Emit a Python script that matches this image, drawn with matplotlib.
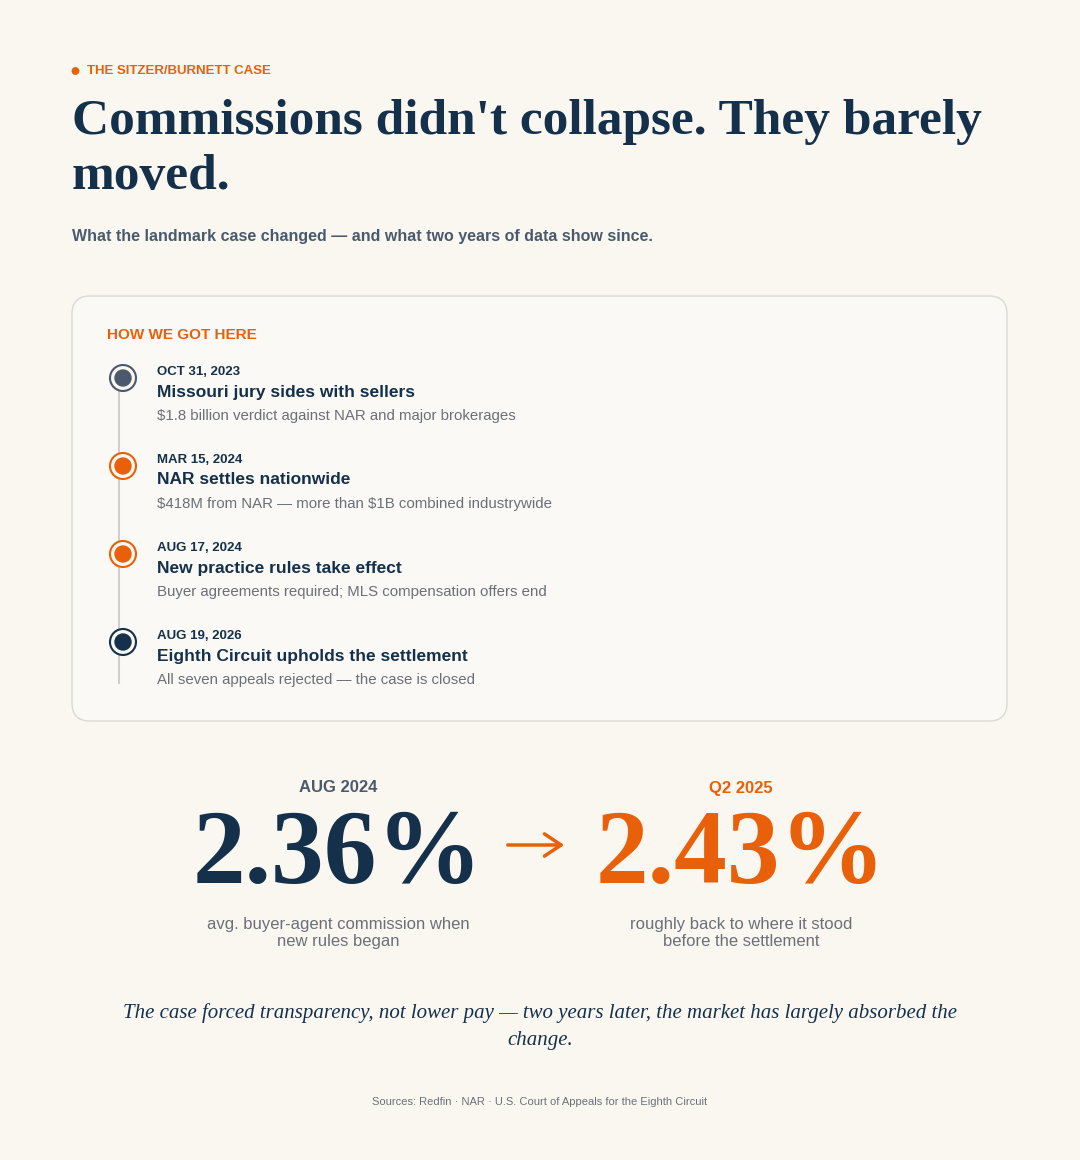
import matplotlib
matplotlib.use("Agg")
import matplotlib.pyplot as plt
from matplotlib.patches import FancyBboxPatch, Circle, FancyArrowPatch

NAVY = "#14304a"; ORANGE = "#e8600a"; SLATE = "#4a5a6c"; GRAY = "#6b7078"; BG = "#faf7f1"

event_dates = ["OCT 31, 2023", "MAR 15, 2024", "AUG 17, 2024", "AUG 19, 2026"]
event_titles = ["Missouri jury sides with sellers", "NAR settles nationwide",
                "New practice rules take effect", "Eighth Circuit upholds the settlement"]
event_descs = ["\\$1.8 billion verdict against NAR and major brokerages",
               "\\$418M from NAR — more than \\$1B combined industrywide",
               "Buyer agreements required; MLS compensation offers end",
               "All seven appeals rejected — the case is closed"]
event_colors = ["#4a5a6c", ORANGE, ORANGE, NAVY]

stat_labels = ["AUG 2024", "Q2 2025"]
stat_values = [2.36, 2.43]
stat_notes = ["avg. buyer-agent commission when\nnew rules began",
              "roughly back to where it stood\nbefore the settlement"]
stat_colors = [NAVY, ORANGE]

fig = plt.figure(figsize=(10.8, 11.6), dpi=100, facecolor=BG)
ax = fig.add_axes([0, 0, 1, 1]); ax.set_xlim(0, 1080); ax.set_ylim(1160, 0); ax.axis("off")
ax.set_facecolor(BG)
SANS = ["Liberation Sans", "DejaVu Sans"]; SERIF = ["Liberation Serif", "DejaVu Serif"]

ax.add_patch(Circle((75.5, 71), 3.2, color=ORANGE))
ax.text(87, 71, "THE SITZER/BURNETT CASE", family=SANS, fontsize=9.5,
        weight="bold", color=ORANGE, va="center")
ax.text(72, 122, "Commissions didn't collapse. They barely", family=SERIF, fontsize=37, weight="bold",
        color=NAVY, va="center")
ax.text(72, 177, "moved.", family=SERIF, fontsize=37, weight="bold", color=NAVY, va="center")
ax.text(72, 237, "What the landmark case changed — and what two years of data show since.", family=SANS,
        fontsize=11.5, weight="bold", color=SLATE, va="center")

ax.add_patch(FancyBboxPatch((72, 296), 935, 425, boxstyle="round,pad=0,rounding_size=18",
                            facecolor="#fbf9f5", edgecolor="#dcd9d3", lw=1))
ax.text(107, 335, "HOW WE GOT HERE", family=SANS, fontsize=11,
        weight="bold", color=ORANGE, va="center")
ax.plot([119, 119], [378, 683], color="#cfcfcf", lw=1.5, zorder=2)
for i, (d, t, s, c) in enumerate(zip(event_dates, event_titles, event_descs, event_colors)):
    y = 372 + 88 * i
    ax.add_patch(Circle((123, y + 6), 13, facecolor=BG, edgecolor=c, lw=1.5, zorder=3))
    ax.add_patch(Circle((123, y + 6), 8, color=c, zorder=4))
    ax.text(157, y, d, family=SANS, fontsize=9.5, weight="bold", color=NAVY, va="center")
    ax.text(157, y + 20, t, family=SANS, fontsize=12.5, weight="bold", color=NAVY, va="center")
    ax.text(157, y + 44, s, family=SANS, fontsize=10.8, color=GRAY, va="center")

for cx, lab, v, note, c in zip([338, 741], stat_labels, stat_values, stat_notes, stat_colors):
    ax.text(cx, 788, lab, family=SANS, fontsize=12, weight="bold",
            color=SLATE if c == NAVY else ORANGE, ha="center", va="center")
    ax.text(cx, 858, f"{v:.2f}%", family=SERIF, fontsize=76, weight="bold", color=c,
            ha="center", va="center")
    ax.text(cx, 933, note, family=SANS, fontsize=12, color=GRAY, ha="center", va="center",
            linespacing=1.1)
ax.add_patch(FancyArrowPatch((505, 845), (567, 845), arrowstyle="->,head_length=12,head_width=8",
                             color=ORANGE, lw=2.5))

ax.text(540, 1013, "The case forced transparency, not lower pay — two years later, the market has largely absorbed the",
        family=SERIF, fontsize=15, style="italic", color=NAVY, ha="center", va="center")
ax.text(540, 1040, "change.", family=SERIF, fontsize=15, style="italic", color=NAVY, ha="center", va="center")
ax.text(540, 1102, "Sources: Redfin · NAR · U.S. Court of Appeals for the Eighth Circuit", family=SANS,
        fontsize=8, color=GRAY, ha="center", va="center")

fig.savefig("out.png", dpi=100, facecolor=BG)
